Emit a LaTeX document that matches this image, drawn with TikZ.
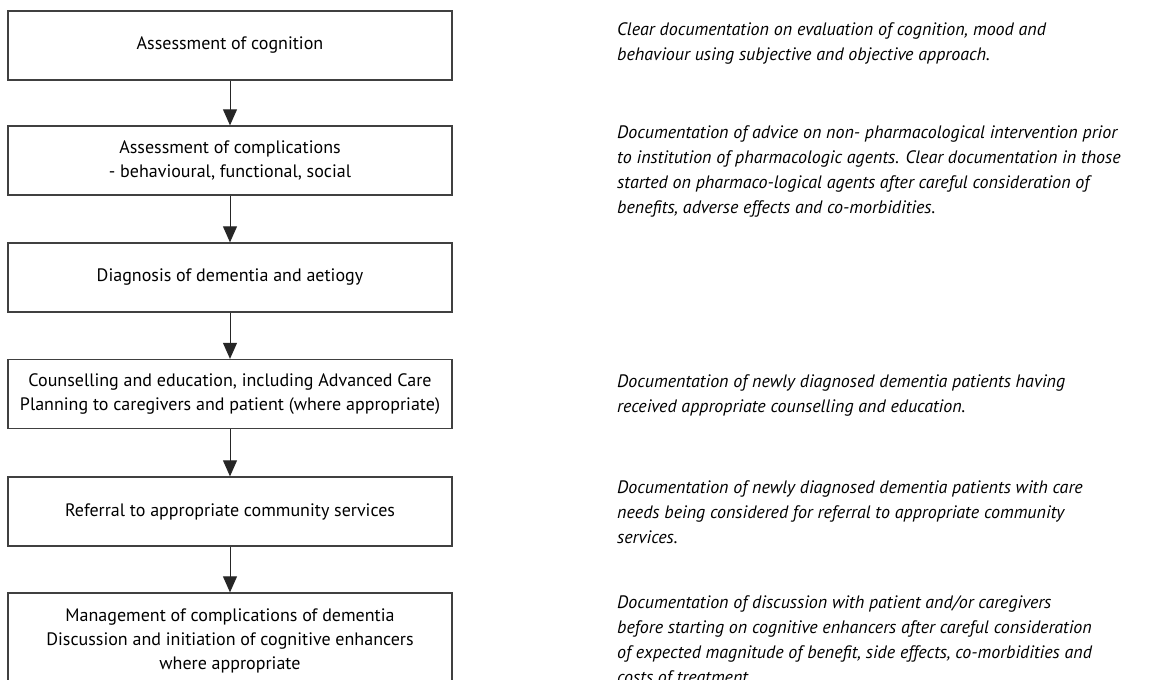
\documentclass[tikz,border=0pt]{standalone}
\usepackage{fontspec}
\setmainfont{PT Sans}
\usetikzlibrary{arrows.meta}
\begin{document}
\begin{tikzpicture}[x=1pt,y=-1pt,
  box/.style={draw=black!75, line width=1.3pt, minimum width=444pt, minimum height=69pt,
    align=center, inner sep=0pt, font=\fontsize{18}{24}\selectfont},
  flow/.style={draw=black!85, line width=0.9pt, -{Triangle[length=16pt,width=14pt]}},
  note/.style={anchor=north west, align=left, inner sep=0pt,
    font=\fontsize{18}{25}\selectfont\itshape}]
\useasboundingbox (0,0) rectangle (1170,680);
\clip (0,0) rectangle (1170,680);

\node[box] (b1) at (230,45.5) {Assessment of cognition};
\node[box] (b2) at (230,160.5) {Assessment of complications\\- behavioural, functional, social};
\node[box] (b3) at (230,277.5) {Diagnosis of dementia and aetiogy};
\node[box] (b4) at (230,394) {Counselling and education, including Advanced Care\\Planning to caregivers and patient (where appropriate)};
\node[box] (b5) at (230,511.5) {Referral to appropriate community services};
\node[box, minimum height=96pt] (b6) at (230,641) {Management of complications of dementia\\Discussion and initiation of cognitive enhancers\\where appropriate};

\draw[flow] (b1.south) -- (b2.north);
\draw[flow] (b2.south) -- (b3.north);
\draw[flow] (b3.south) -- (b4.north);
\draw[flow] (b4.south) -- (b5.north);
\draw[flow] (b5.south) -- (b6.north);

\node[note] (n1) at (617,17.5) {\strut Clear documentation on evaluation of cognition, mood and\\behaviour using subjective and objective approach.};
\node[note] (n2) at (617,120.5) {\strut Documentation of advice on non- pharmacological intervention prior\\to institution of pharmacologic agents. Clear documentation in those\\started on pharmaco-logical agents after careful consideration of\\benefits, adverse effects and co-morbidities.};
\node[note] (n4) at (617,369.5) {\strut Documentation of newly diagnosed dementia patients having\\received appropriate counselling and education.};
\node[note] (n5) at (617,475.5) {\strut Documentation of newly diagnosed dementia patients with care\\needs being considered for referral to appropriate community\\services.};
\node[note] (n6) at (617,590.5) {\strut Documentation of discussion with patient and/or caregivers\\before starting on cognitive enhancers after careful consideration\\of expected magnitude of benefit, side effects, co-morbidities and\\costs of treatment.};
\end{tikzpicture}
\end{document}
